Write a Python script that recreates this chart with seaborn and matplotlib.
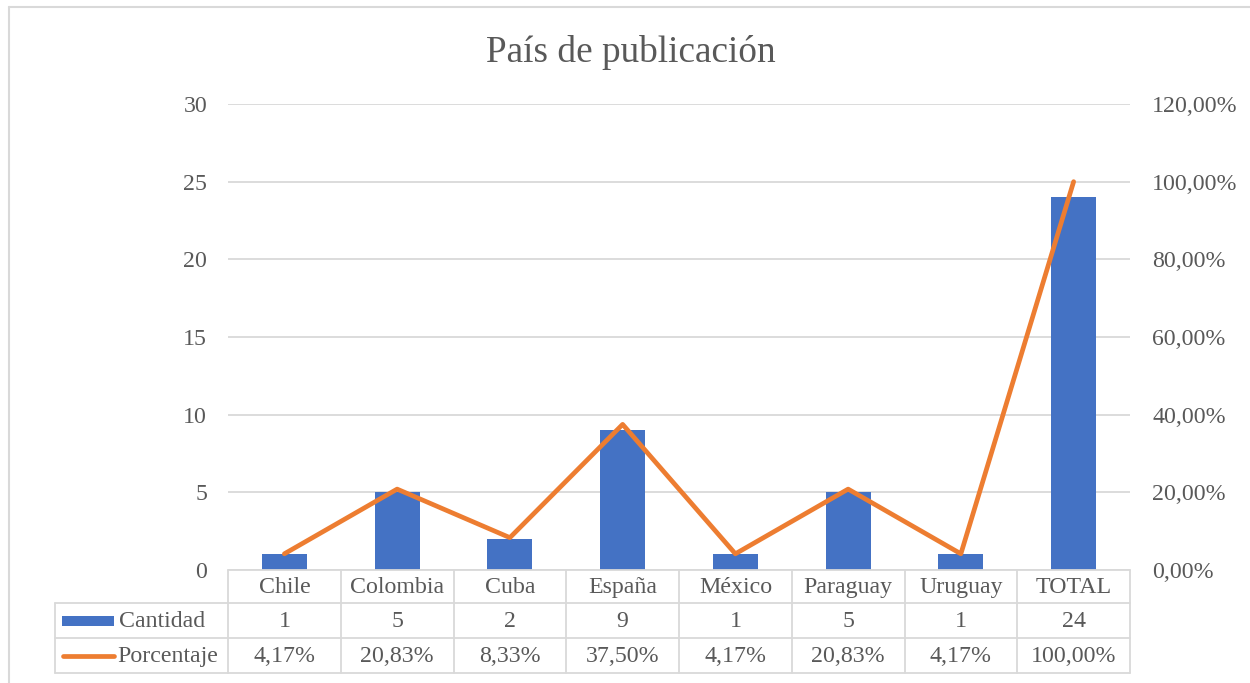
import matplotlib
matplotlib.use("Agg")
import matplotlib.pyplot as plt
import matplotlib.transforms as mtransforms
from matplotlib.lines import Line2D
from matplotlib.patches import Rectangle
from matplotlib.ticker import FuncFormatter, MultipleLocator
import numpy as np
import pandas as pd
import seaborn as sns

# ---- data ----
title = "País de publicación"
categories = ["Chile", "Colombia", "Cuba", "España", "México", "Paraguay", "Uruguay", "TOTAL"]
cantidad = [1, 5, 2, 9, 1, 5, 1, 24]
porcentaje = [4.17, 20.83, 8.33, 37.50, 4.17, 20.83, 4.17, 100.00]
series_names = ["Cantidad", "Porcentaje"]

BLUE = "#4472C4"
ORANGE = "#ED7D31"
GRID = "#D9D9D9"
TXT = "#595959"

sns.set_theme(style="white")
plt.rcParams["font.family"] = ["Liberation Serif", "DejaVu Serif"]

W, H = 1250, 683
fig = plt.figure(figsize=(W / 100, H / 100), dpi=100)

def fx(px):
    return px / W

def fy(py):
    return 1 - py / H

FS = 17.2

left_px, right_px, top_px, bot_px = 228, 1130, 104, 570
ax = fig.add_axes([fx(left_px), fy(bot_px), fx(right_px - left_px), (bot_px - top_px) / H])

df = pd.DataFrame({"cat": categories, "cantidad": cantidad,
                   "pct": [p / 100 for p in porcentaje], "pos": np.arange(len(categories))})

sns.barplot(data=df, x="cat", y="cantidad", color=BLUE, saturation=1, width=0.4, ax=ax,
            linewidth=0, edgecolor=BLUE, zorder=2)
ax.set_ylim(0, 30)
ax.yaxis.set_major_locator(MultipleLocator(5))
ax.set_xlim(-0.5, len(categories) - 0.5)
ax.grid(axis="y", color=GRID, linewidth=1.3, zorder=0)
ax.set_axisbelow(True)
for s in ax.spines.values():
    s.set_visible(False)
ax.set_xlabel("")
ax.set_ylabel("")
ax.set_xticks([])
ax.tick_params(axis="y", length=0, pad=15, labelsize=FS, labelcolor=TXT)

ax2 = ax.twinx()
sns.lineplot(data=df, x="pos", y="pct", color=ORANGE, linewidth=3.4, ax=ax2,
             solid_capstyle="round", solid_joinstyle="round", zorder=3)
ax2.set_ylim(0, 1.2)
ax2.set_xlim(-0.5, len(categories) - 0.5)
ax2.yaxis.set_major_locator(MultipleLocator(0.2))
ax2.yaxis.set_major_formatter(FuncFormatter(lambda v, p: f"{v*100:.2f}%".replace(".", ",")))
for s in ax2.spines.values():
    s.set_visible(False)
ax2.set_xlabel("")
ax2.set_ylabel("")
ax2.set_xticks([])
ax2.tick_params(axis="y", length=0, pad=16, labelsize=FS, labelcolor=TXT)

# ---- title ----
fig.text(0.505, fy(52), title, ha="center", va="center", fontsize=26.8, color=TXT)

# ---- data table ----
bt = mtransforms.blended_transform_factory(ax.transData, fig.transFigure)
rows_px = [570, 603, 638, 673]
lw = 1.3
n = len(categories)
tab_left_px = 55
fig.add_artist(Line2D([-0.5, n - 0.5], [fy(rows_px[0])] * 2, transform=bt, color=GRID, lw=lw))
for r in rows_px[1:]:
    fig.add_artist(Line2D([fx(tab_left_px), fx(left_px)], [fy(r)] * 2, transform=fig.transFigure, color=GRID, lw=lw))
    fig.add_artist(Line2D([-0.5, n - 0.5], [fy(r)] * 2, transform=bt, color=GRID, lw=lw))
for i in range(n + 1):
    fig.add_artist(Line2D([i - 0.5] * 2, [fy(rows_px[0]), fy(rows_px[-1])], transform=bt, color=GRID, lw=lw))
fig.add_artist(Line2D([fx(tab_left_px)] * 2, [fy(rows_px[1]), fy(rows_px[-1])], transform=fig.transFigure, color=GRID, lw=lw))

for i, c in enumerate(categories):
    fig.text(i, fy((rows_px[0] + rows_px[1]) / 2 + 1), c, transform=bt, ha="center", va="center", fontsize=FS, color=TXT)
    fig.text(i, fy((rows_px[1] + rows_px[2]) / 2 + 1), str(cantidad[i]), transform=bt, ha="center", va="center", fontsize=FS, color=TXT)
    fig.text(i, fy((rows_px[2] + rows_px[3]) / 2 + 1), f"{porcentaje[i]:.2f}%".replace(".", ","), transform=bt,
             ha="center", va="center", fontsize=FS, color=TXT)

# legend keys in table
y1 = (rows_px[1] + rows_px[2]) / 2
y2 = (rows_px[2] + rows_px[3]) / 2
fig.add_artist(Rectangle((fx(62), fy(y1 + 5)), fx(52), 10 / H, transform=fig.transFigure, color=BLUE, lw=0))
fig.add_artist(Line2D([fx(63), fx(114)], [fy(y2)] * 2, transform=fig.transFigure, color=ORANGE, lw=3.4,
                      solid_capstyle="round"))
fig.text(fx(119), fy(y1 + 1), series_names[0], ha="left", va="center", fontsize=FS, color=TXT)
fig.text(fx(117), fy(y2 + 1), series_names[1], ha="left", va="center", fontsize=FS, color=TXT)

# outer chart frame
fig.add_artist(Line2D([fx(9), fx(9)], [0, fy(7)], transform=fig.transFigure, color=GRID, lw=1.5))
fig.add_artist(Line2D([fx(9), 1], [fy(7), fy(7)], transform=fig.transFigure, color=GRID, lw=1.5))

fig.savefig("out.png", dpi=100, facecolor="white")
